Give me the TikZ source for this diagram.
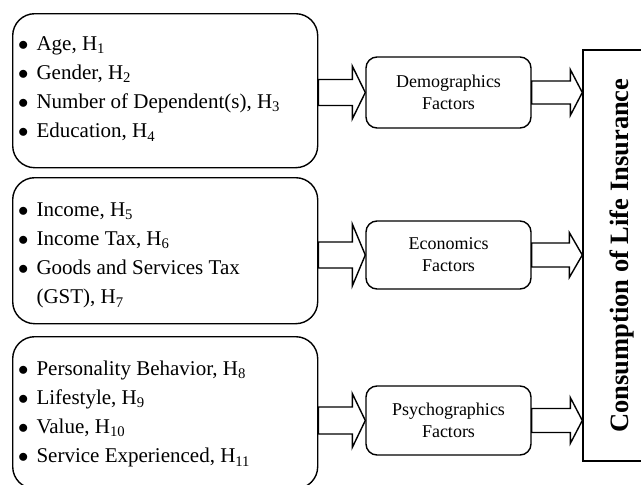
\documentclass[tikz,border=0pt]{standalone}
\usepackage{fontspec}
\setmainfont{Liberation Serif}
\usetikzlibrary{calc}
\newcommand{\blockarr}[5]{%
  \draw[arrowline] let \p1=(#1), \p2=(#2) in
  (\x1,\y2+#3) -- (\x2-#5,\y2+#3) -- (\x2-#5,\y2+#4) -- (\x2,\y2)
  -- (\x2-#5,\y2-#4) -- (\x2-#5,\y2-#3) -- (\x1,\y2-#3) -- cycle;}
\newcommand{\bul}{$\bullet$}
\begin{document}
\begin{tikzpicture}[x=1pt,y=-1pt,
  bigbox/.style={draw, line width=1.4pt, rounded corners=22pt},
  midbox/.style={draw, line width=1.4pt, rounded corners=11pt, minimum width=165pt, minimum height=69pt,
    align=center, font=\fontsize{18}{22}\selectfont, inner sep=0pt},
  listtext/.style={anchor=base west, inner sep=0pt, align=left, font=\fontsize{21}{29.3}\selectfont},
  arrowline/.style={draw, line width=1.4pt, fill=white, line join=miter},
  endbox/.style={draw, line width=1.4pt, rotate=90, minimum width=411pt, minimum height=77pt,
    font=\fontsize{26.5}{30}\selectfont\bfseries, inner sep=0pt}]
\useasboundingbox (0,0) rectangle (641,485);
\clip (0,0) rectangle (641,485);
% left boxes
\node[bigbox, minimum width=305pt, minimum height=154pt, anchor=north west] (b1) at (12,13) {};
\node[bigbox, minimum width=305pt, minimum height=146pt, anchor=north west] (b2) at (12,177) {};
\node[bigbox, minimum width=305pt, minimum height=152pt, anchor=north west] (b3) at (12,336) {};
% lists
\node[listtext] (l1) at (18,50) {\begin{tabular}[t]{@{}l@{\hspace{8pt}}l@{}}
\bul & Age, H\textsubscript{1}\\
\bul & Gender, H\textsubscript{2}\\
\bul & Number of Dependent(s), H\textsubscript{3}\\
\bul & Education, H\textsubscript{4}
\end{tabular}};
\node[listtext] (l2) at (18,216) {\begin{tabular}[t]{@{}l@{\hspace{8pt}}l@{}}
\bul & Income, H\textsubscript{5}\\
\bul & Income Tax, H\textsubscript{6}\\
\bul & Goods and Services Tax\\
 & (GST), H\textsubscript{7}
\end{tabular}};
\node[listtext] (l3) at (18,375) {\begin{tabular}[t]{@{}l@{\hspace{8pt}}l@{}}
\bul & Personality Behavior, H\textsubscript{8}\\
\bul & Lifestyle, H\textsubscript{9}\\
\bul & Value, H\textsubscript{10}\\
\bul & Service Experienced, H\textsubscript{11}
\end{tabular}};
% middle boxes
\node[midbox, minimum height=71pt] (d) at (448.5,92.5) {Demographics\\Factors};
\node[midbox, minimum height=68pt] (e) at (448.5,255) {Economics\\Factors};
\node[midbox, minimum height=69pt] (p) at (448.5,420.5) {Psychographics\\Factors};
% right box
\node[endbox] (R) at (621.5,255.5) {Consumption of Life Insurance};
% arrows
\blockarr{b1.east |- d.west}{d.west}{13pt}{26.5pt}{13pt}
\blockarr{b2.east |- e.west}{e.west}{13pt}{31pt}{13pt}
\blockarr{b3.east |- p.west}{p.west}{13.5pt}{27pt}{13pt}
\blockarr{d.east}{R.north |- d.east}{11.5pt}{23pt}{12pt}
\blockarr{e.east}{R.north |- e.east}{12pt}{22.5pt}{13pt}
\blockarr{p.east}{R.north |- p.east}{12pt}{23pt}{12pt}
\end{tikzpicture}
\end{document}
